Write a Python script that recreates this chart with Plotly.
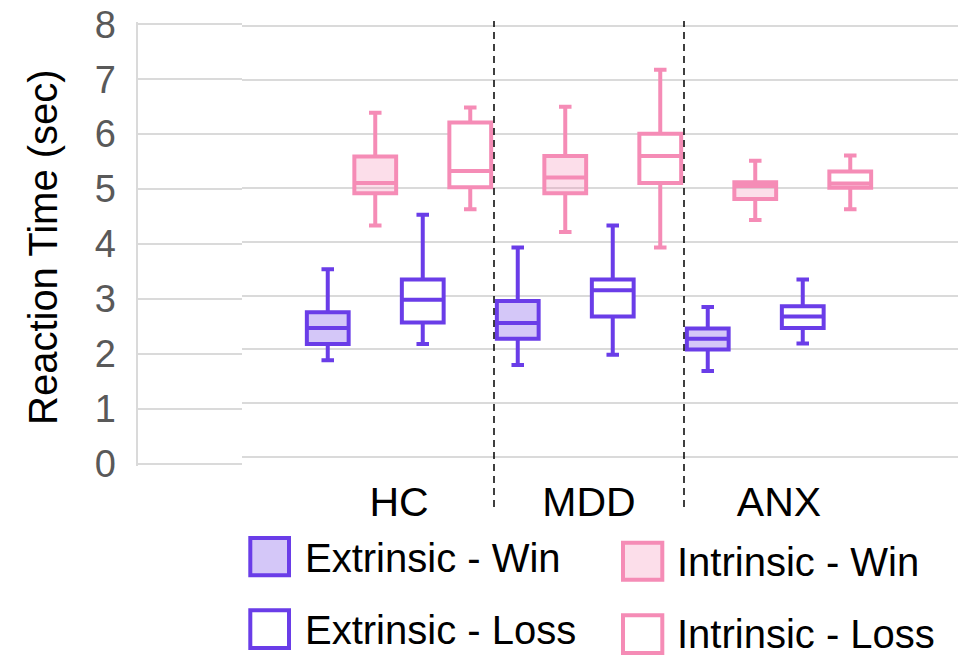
import plotly.graph_objects as go

W, H = 958, 656

# ---------------- data ----------------
categories = ["HC", "MDD", "ANX"]
series_names = ["Extrinsic - Win", "Intrinsic - Win", "Extrinsic - Loss", "Intrinsic - Loss"]

ext_win_lower = [1.80, 1.71, 1.60]
ext_win_q1 = [2.10, 2.20, 2.00]
ext_win_median = [2.40, 2.49, 2.20]
ext_win_q3 = [2.69, 2.90, 2.39]
ext_win_upper = [3.49, 3.89, 2.79]

int_win_lower = [4.30, 4.18, 4.40]
int_win_q1 = [4.90, 4.90, 4.79]
int_win_median = [5.09, 5.19, 5.03]
int_win_q3 = [5.58, 5.59, 5.10]
int_win_upper = [6.39, 6.50, 5.50]

ext_loss_lower = [2.10, 1.90, 2.11]
ext_loss_q1 = [2.50, 2.61, 2.40]
ext_loss_median = [2.92, 3.10, 2.61]
ext_loss_q3 = [3.30, 3.30, 2.80]
ext_loss_upper = [4.50, 4.30, 3.30]

int_loss_lower = [4.60, 3.89, 4.60]
int_loss_q1 = [5.01, 5.09, 5.00]
int_loss_median = [5.31, 5.59, 5.08]
int_loss_q3 = [6.21, 6.00, 5.30]
int_loss_upper = [6.49, 7.19, 5.60]

y_tick_values = [0, 1, 2, 3, 4, 5, 6, 7, 8]
y_title = "Reaction Time (sec)"

# ---------------- style ----------------
BLUE = "#6A3DE8"
PINK = "#F58CB6"
BLUE_FILL = "rgba(106,61,232,0.29)"
PINK_FILL = "rgba(245,140,182,0.29)"
WHITE = "#FFFFFF"
GRID = "#DADADA"
FONT = "Liberation Sans, Arial, sans-serif"
LW = 4


def px(x):
    return x / W


def py(y):
    return 1 - y / H


series = [
    (series_names[0], ext_win_lower, ext_win_q1, ext_win_median, ext_win_q3, ext_win_upper, BLUE, BLUE_FILL),
    (series_names[1], int_win_lower, int_win_q1, int_win_median, int_win_q3, int_win_upper, PINK, PINK_FILL),
    (series_names[2], ext_loss_lower, ext_loss_q1, ext_loss_median, ext_loss_q3, ext_loss_upper, BLUE, WHITE),
    (series_names[3], int_loss_lower, int_loss_q1, int_loss_median, int_loss_q3, int_loss_upper, PINK, WHITE),
]

fig = go.Figure()
for name, lo, q1, med, q3, up, color, fill in series:
    fig.add_trace(go.Box(
        x=categories, q1=q1, median=med, q3=q3, lowerfence=lo, upperfence=up,
        name=name, line=dict(color=color, width=LW), fillcolor=fill,
        whiskerwidth=0.3, boxpoints=False, showlegend=False,
        xaxis="x", yaxis="y", hoverinfo="skip",
    ))

# empty trace to hold the left (label) subplot
fig.add_trace(go.Scatter(x=[], y=[], xaxis="x2", yaxis="y2", showlegend=False))

# shapes: dashed separators + legend swatches
shapes = []
for sep in [0.5, 1.5]:
    shapes.append(dict(type="line", xref="x", yref="paper", x0=sep, x1=sep,
                       y0=py(507), y1=py(21), line=dict(color="black", width=1.5, dash="7px,5px"),
                       layer="above"))

legend_items = [
    (0, (250.3, 289.0, 538.0, 575.3), 303, 558.3, BLUE, BLUE_FILL),
    (1, (623.0, 662.3, 542.7, 579.7), 675, 561.5, PINK, PINK_FILL),
    (2, (250.3, 289.0, 610.3, 648.0), 303, 630.0, BLUE, WHITE),
    (3, (623.0, 662.3, 615.3, 653.0), 675, 634.0, PINK, WHITE),
]
annotations = []
for idx, (x0, x1, y0, y1), tx, ty, lc, fc in legend_items:
    shapes.append(dict(type="rect", xref="paper", yref="paper",
                       x0=px(x0), x1=px(x1), y0=py(y1), y1=py(y0),
                       line=dict(color=lc, width=LW), fillcolor=fc, layer="above"))
    annotations.append(dict(text=series_names[idx], xref="paper", yref="paper",
                            x=px(tx), y=py(ty), xanchor="left", yanchor="middle",
                            showarrow=False, font=dict(family=FONT, size=40, color="black")))

annotations.append(dict(text=y_title, xref="paper", yref="paper", x=px(43), y=py(247),
                        textangle=-90, xanchor="center", yanchor="middle", showarrow=False,
                        font=dict(family=FONT, size=40, color="black")))

x_left_px, x_right_px, hc_center_px, unit_px = 241.7, 958.0, 399.0, 190.0

# small padding on y ranges so gridlines at 0 and 8 are drawn
PAD = 0.04
main_unit = (457.3 - 26.0) / 8
left_unit = (463.7 - 24.3) / 8

fig.update_layout(
    width=W, height=H,
    margin=dict(l=0, r=0, t=0, b=0),
    paper_bgcolor="white", plot_bgcolor="rgba(0,0,0,0)",
    boxmode="group", boxgap=0, boxgroupgap=0.12,
    font=dict(family=FONT),
    xaxis=dict(
        domain=[px(x_left_px), 1.0], anchor="y", type="category",
        categoryorder="array", categoryarray=categories,
        range=[-(hc_center_px - x_left_px) / unit_px, (x_right_px - hc_center_px) / unit_px],
        showgrid=False, zeroline=False, showline=False,
        ticks="outside", ticklen=6, tickcolor="rgba(0,0,0,0)",
        tickfont=dict(family=FONT, size=41, color="black"), automargin=False,
    ),
    yaxis=dict(
        domain=[py(457.3 + PAD * main_unit), py(26.0 - PAD * main_unit)], anchor="x",
        range=[-PAD, 8 + PAD],
        tickvals=y_tick_values, showticklabels=False, ticks="",
        showgrid=True, gridcolor=GRID, gridwidth=2, zeroline=False, showline=False,
        automargin=False,
    ),
    xaxis2=dict(
        domain=[px(137.5), px(x_left_px)], anchor="y2", range=[0, 1],
        showgrid=False, zeroline=False, showline=False, showticklabels=False, ticks="",
        automargin=False,
    ),
    yaxis2=dict(
        domain=[py(463.7 + PAD * left_unit), py(24.3 - PAD * left_unit)], anchor="x2",
        range=[-PAD, 8 + PAD],
        tickvals=y_tick_values, showgrid=True, gridcolor=GRID, gridwidth=2,
        zeroline=False, showline=True, linecolor=GRID, linewidth=2,
        ticks="outside", ticklen=12, tickcolor="rgba(0,0,0,0)",
        tickfont=dict(family=FONT, size=38, color="#595959"), automargin=False,
    ),
    shapes=shapes,
    annotations=annotations,
)

fig.write_html("out.html")
